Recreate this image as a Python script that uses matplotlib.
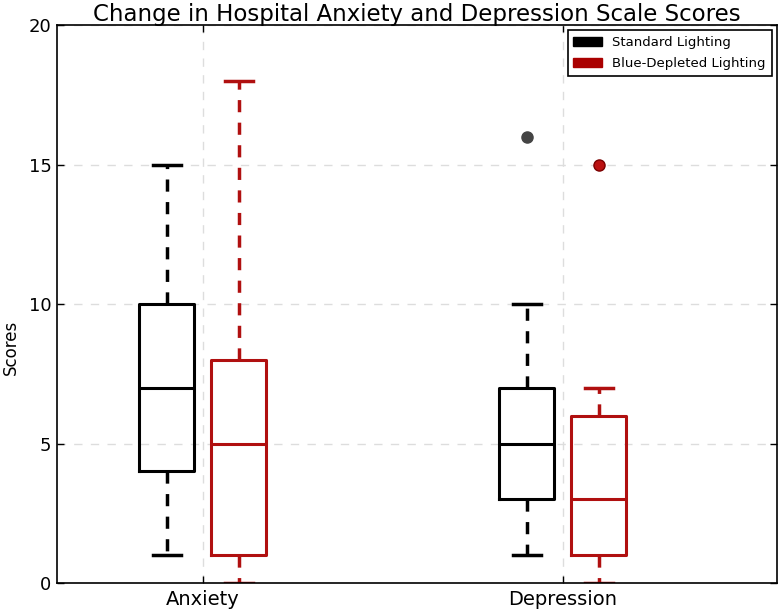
import matplotlib
matplotlib.use("Agg")
import matplotlib.pyplot as plt
from matplotlib.patches import Patch

# ---- data ----
categories = ["Anxiety", "Depression"]
series_names = ["Standard Lighting", "Blue-Depleted Lighting"]
# [whislo, q1, median, q3, whishi]
standard_stats = [[1, 4, 7, 10, 15], [1, 3, 5, 7, 10]]
blue_stats = [[0, 1, 5, 8, 18], [0, 1, 3, 6, 7]]
standard_outliers = [[], [16]]
blue_outliers = [[], [15]]
yticks = [0, 5, 10, 15, 20]

plt.rcParams["font.family"] = ["DejaVu Sans"]

fig = plt.figure(figsize=(7.81, 6.13), dpi=100)
ax = fig.add_axes([0.073, 0.049, 0.922, 0.910])

black = "#000000"
red = "#b01010"

def make_stats(vals, outs):
    lo, q1, med, q3, hi = vals
    return dict(whislo=lo, q1=q1, med=med, q3=q3, whishi=hi, fliers=outs)

off = 0.1
w = 0.153
for i, cat in enumerate(categories):
    for stats, outs, col, fl_face, fl_edge, d in [
        (standard_stats, standard_outliers, black, "#444444", "#444444", -off),
        (blue_stats, blue_outliers, red, "#bb1111", "#7a0000", off),
    ]:
        ax.bxp([make_stats(stats[i], outs[i])], positions=[i + 1 + d], widths=w,
               boxprops=dict(color=col, linewidth=2.2),
               medianprops=dict(color=col, linewidth=2.2),
               whiskerprops=dict(color=col, linewidth=2.5, linestyle=(0, (3.5, 3))),
               capprops=dict(color=col, linewidth=2.5),
               flierprops=dict(marker="o", markerfacecolor=fl_face,
                               markeredgecolor=fl_edge, markersize=8),
               manage_ticks=False)

ax.set_xlim(0.595, 2.595)
ax.set_ylim(0, 20)
ax.set_yticks(yticks)
ax.set_xticks([1, 2])
ax.set_xticklabels(categories)
ax.tick_params(direction="in", top=True, right=True, length=5, width=1)
ax.tick_params(axis="x", labelsize=14, pad=5)
ax.tick_params(axis="y", labelsize=13, pad=4)
ax.set_ylabel("Scores", fontsize=12)
ax.yaxis.set_label_coords(-0.052, 0.423)
ax.set_title("Change in Hospital Anxiety and Depression Scale Scores", fontsize=16.5, pad=3)
ax.grid(True, color="#dddddd", linestyle=(0, (6, 6)), linewidth=1)
ax.set_axisbelow(True)
for s in ax.spines.values():
    s.set_linewidth(1.2)

handles = [Patch(facecolor=black, edgecolor=black), Patch(facecolor="#aa0000", edgecolor="#aa0000")]
leg = ax.legend(handles, series_names, loc="upper right", fontsize=9.5,
                fancybox=False, framealpha=1, edgecolor="black",
                handlelength=2.2, handleheight=0.7, labelspacing=0.6,
                borderpad=0.45, handletextpad=0.75, borderaxespad=0.4)
leg.get_frame().set_linewidth(1.2)

fig.savefig("out.png", dpi=100, facecolor="white")
